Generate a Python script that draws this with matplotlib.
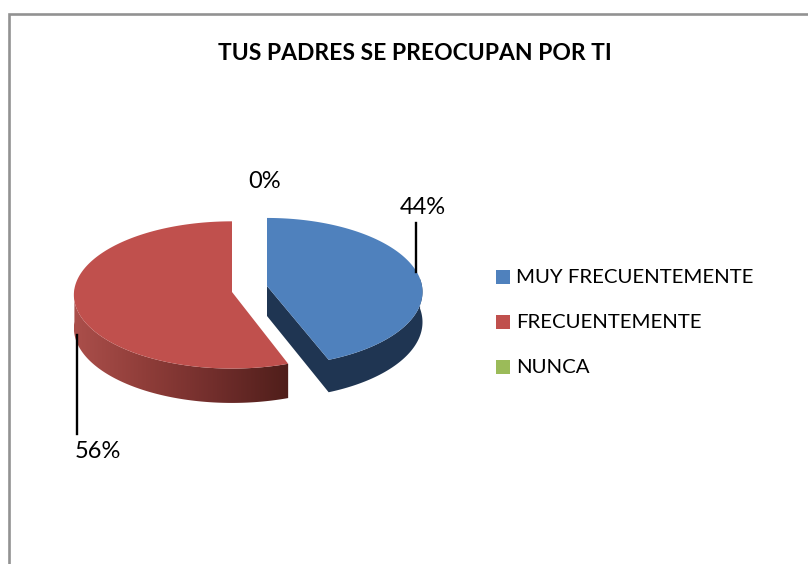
#!/usr/bin/env python3
import numpy as np
import matplotlib
matplotlib.use("Agg")
import matplotlib.pyplot as plt
from matplotlib.colors import LinearSegmentedColormap
from matplotlib.patches import Polygon, Rectangle

plt.rcParams["font.family"] = ["Lato", "DejaVu Sans"]

title = "TUS PADRES SE PREOCUPAN POR TI"
categories = ["MUY FRECUENTEMENTE", "FRECUENTEMENTE", "NUNCA"]
values = [44, 56, 0]
labels = ["44%", "56%", "0%"]
colors = ["#4F81BD", "#C0504D", "#9BBB59"]

RY = 73.5


def project(ox, oy, rx, t, k, drop=0.0):
    """Circle angle t (radians, 0 = right, pi/2 = back) to picture pixels."""
    X, Y = np.cos(t), np.sin(t)
    s = 1.0 / (1.0 + k * Y)
    return ox + rx * X * s, oy + (-RY * Y + drop) * s


def draw_blue(ax, sweep):
    ox, oy, rx, k, depth = 267.0, 286.0, 155.0, 0.08, 30.0
    t = np.radians(np.linspace(90, 90 - sweep, 200))
    x, y = project(ox, oy, rx, t, k)
    xb, yb = project(ox, oy, rx, t, k, depth)
    # sides as one shape: rim facing us, then the cut wall via the apex
    front = np.sin(t) < 0.1
    side = np.r_[np.c_[x[front], y[front]],
                 [(ox, oy), (ox, oy + depth)],
                 np.c_[xb[front], yb[front]][::-1]]
    ax.add_patch(Polygon(side, fc="#1F3552", ec="none", zorder=2))
    top = np.r_[[(ox, oy)], np.c_[x, y]]
    ax.add_patch(Polygon(top, fc=colors[0], ec="none", zorder=3))


def draw_red(ax, start, sweep):
    ox, oy, rx, k, depth = 232.0, 292.0, 158.0, 0.04, 33.0
    # the cut edge sits a little further round than the slice border
    nudge = 1.6
    t = np.radians(np.linspace(start - nudge, start - sweep, 300))
    x, y = project(ox, oy, rx, t, k)
    xb, yb = project(ox, oy, rx, t, k, depth)
    front = np.sin(t) < 0.05
    ring = np.r_[np.c_[x[front], y[front]], np.c_[xb[front], yb[front]][::-1]]
    clip = Polygon(ring, fc="none", ec="none", transform=ax.transData)
    ax.add_patch(clip)
    cmap = LinearSegmentedColormap.from_list(
        "side", ["#AB4F4B", "#8F3D39", "#702D2B", "#4F1E1A"])
    grad = np.linspace(0, 1, 256).reshape(1, -1)
    im = ax.imshow(grad, cmap=cmap, extent=[x.min(), x.max(), 420, 280],
                   aspect="auto", zorder=2)
    im.set_clip_path(clip)
    top = np.r_[[(ox, oy)], np.c_[x, y]]
    ax.add_patch(Polygon(top, fc=colors[1], ec="none", zorder=3))


def main():
    fig = plt.figure(figsize=(8.08, 5.64), dpi=100, facecolor="white")
    ax = fig.add_axes([0, 0, 1, 1])
    ax.set_axis_off()

    sweeps = [v / sum(values) * 360 for v in values]
    draw_blue(ax, sweeps[0])
    draw_red(ax, 90 - sweeps[0], sweeps[1])
    ax.set_xlim(0, 808)
    ax.set_ylim(564, 0)

    # chart frame, right and bottom edges fall outside the crop
    ax.plot([9, 9, 808], [564, 14, 14], color="#929292", lw=1.9,
            solid_joinstyle="miter", zorder=1)

    ax.text(414.5, 54, title, ha="center", va="center", fontsize=16.5, fontweight="bold")

    # leader lines and data labels
    ax.plot([415.5, 415.5], [223, 272], color="black", lw=1.7, zorder=4)
    ax.plot([77, 77], [335, 434], color="black", lw=1.7, zorder=4)
    ax.text(422.5, 208, labels[0], ha="center", va="center", fontsize=17)
    ax.text(97.5, 451, labels[1], ha="center", va="center", fontsize=17)
    ax.text(265, 182, labels[2], ha="center", va="center", fontsize=17)

    # legend
    for i, name in enumerate(categories):
        y = 270 + 45 * i
        ax.add_patch(Rectangle((496, y), 14, 14, fc=colors[i], ec="none"))
        ax.text(516, y + 7.5, name, ha="left", va="center", fontsize=14.7)

    fig.savefig("out.png", dpi=100)


if __name__ == "__main__":
    main()
